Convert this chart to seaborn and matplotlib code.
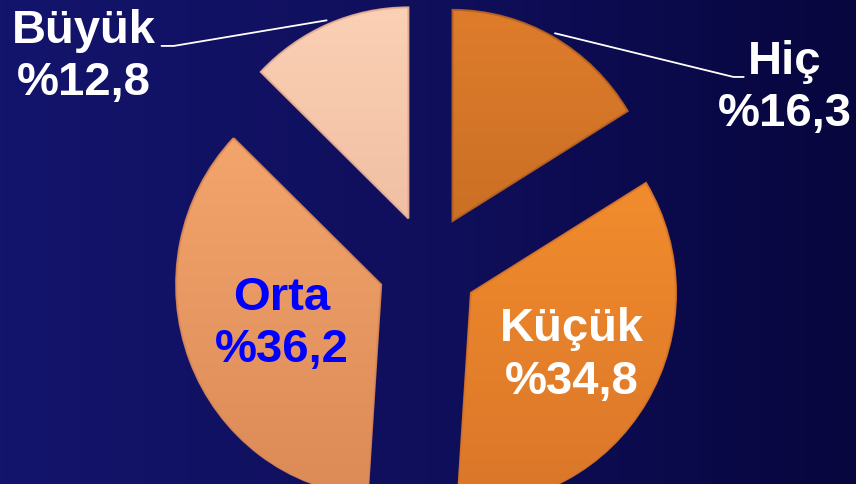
import numpy as np
import matplotlib
matplotlib.use("Agg")
import matplotlib.pyplot as plt
import matplotlib.colors as mcolors
from matplotlib.patches import Wedge
import seaborn as sns

# ---- data ----
categories = ["Hiç", "Küçük", "Orta", "Büyük"]
values = [16.3, 34.8, 36.2, 12.8]
value_labels = ["%16,3", "%34,8", "%36,2", "%12,8"]

# ---- styles ----
top_colors = ["#DE7C2B", "#F9932F", "#F7AA70", "#FBD0B4"]
bottom_colors = ["#B8631F", "#DA7629", "#DC8A57", "#E6AE94"]
text_colors = ["white", "white", "#0000FF", "white"]
explode_amt = 0.245

sns.set_style("white")
plt.rcParams["font.family"] = ["Liberation Sans", "DejaVu Sans"]

W, H = 856, 484
fig = plt.figure(figsize=(W / 100, H / 100), dpi=100)
ax = fig.add_axes([0, 0, 1, 1])

sx_px, sy_px = 205.0, 211.0
cx_px, cy_px = 428.0, 266.0
xmin, xmax = -cx_px / sx_px, (W - cx_px) / sx_px
ymax, ymin = cy_px / sy_px, -(H - cy_px) / sy_px

# background gradient (horizontal)
bg = mcolors.LinearSegmentedColormap.from_list("bg", ["#13146C", "#100F5C", "#07063E"])
grad = np.linspace(0, 1, 256).reshape(1, -1)
ax.imshow(grad, cmap=bg, extent=(xmin, xmax, ymin, ymax), aspect="auto", zorder=0)

wedges, _ = ax.pie(
    values,
    colors=sns.color_palette(top_colors),
    startangle=90,
    counterclock=False,
    explode=[explode_amt] * len(values),
    radius=1.0,
    wedgeprops=dict(linewidth=0),
)

for i, w in enumerate(wedges):
    mid = np.deg2rad((w.theta1 + w.theta2) / 2)
    ox, oy = explode_amt * np.cos(mid), explode_amt * np.sin(mid)
    cmap = mcolors.LinearSegmentedColormap.from_list(f"w{i}", [bottom_colors[i], top_colors[i]])
    g = np.linspace(0, 1, 256).reshape(-1, 1)
    im = ax.imshow(g, cmap=cmap, origin="lower", extent=(ox - 1, ox + 1, oy - 1, oy + 1),
                   aspect="auto", zorder=2)
    im.set_clip_path(w)
    w.set_zorder(1)
    edge = Wedge((ox, oy), 1.0, w.theta1, w.theta2, facecolor="none",
                 edgecolor=mcolors.to_rgba(bottom_colors[i], 0.9), linewidth=1.5, zorder=3)
    ax.add_patch(edge)

# label placement
inside_dist = {"Küçük": 0.575, "Orta": 0.52}
outside_pos = {"Hiç": (1.54, 0.896), "Büyük": (-1.30, 1.043)}
outside_text = {"Hiç": (1.74, 0.844), "Büyük": (-1.68, 0.99)}

for i, w in enumerate(wedges):
    name = categories[i]
    mid = np.deg2rad((w.theta1 + w.theta2) / 2)
    ox, oy = explode_amt * np.cos(mid), explode_amt * np.sin(mid)
    txt = f"{name}\n{value_labels[i]}"
    if name in inside_dist:
        d = inside_dist[name]
        ax.text(ox + d * np.cos(mid), oy + d * np.sin(mid), txt, ha="center", va="center",
                fontsize=34, fontweight="bold", color=text_colors[i], linespacing=1.25, zorder=5)
    else:
        sx, sy = ox + 1.02 * np.cos(mid), oy + 1.02 * np.sin(mid)
        ex, ey = outside_pos[name]
        kx = ex + (0.06 if ex < 0 else -0.05)
        ax.plot([sx, kx, ex], [sy, ey, ey], color="white", lw=1.3, zorder=4)
        tx, ty = outside_text[name]
        ax.text(tx, ty, txt, ha="center", va="center", fontsize=34, fontweight="bold",
                color=text_colors[i], linespacing=1.25, zorder=5)

ax.set_xlim(xmin, xmax)
ax.set_ylim(ymin, ymax)
ax.set_aspect("auto")
ax.axis("off")

fig.savefig("out.png", dpi=100)
